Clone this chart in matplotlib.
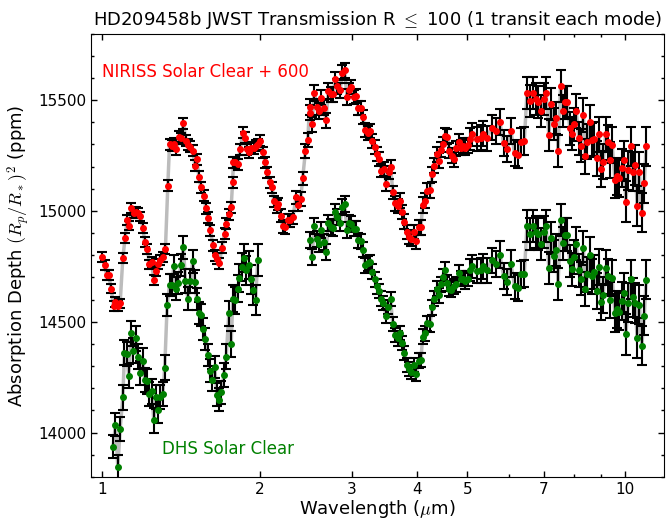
import matplotlib
matplotlib.use("Agg")
import matplotlib.pyplot as plt
from matplotlib.ticker import FixedLocator, FixedFormatter, NullFormatter, MultipleLocator

plt.rcParams["font.family"] = "DejaVu Sans"
plt.rcParams["mathtext.fontset"] = "cm"

# NIRISS (already shifted by +600 ppm, as plotted)
niriss_wl = [
    0.999, 1.009, 1.019, 1.028, 1.039, 1.050, 1.059, 1.070, 1.081, 1.094,
    1.105, 1.115, 1.126, 1.136, 1.148, 1.160, 1.170, 1.181, 1.195, 1.205,
    1.218, 1.230, 1.242, 1.254, 1.267, 1.280, 1.291, 1.305, 1.320,
    1.334, 1.344, 1.357, 1.370, 1.384, 1.400, 1.415, 1.429, 1.446, 1.461,
    1.474, 1.489, 1.503, 1.518, 1.529, 1.545, 1.563, 1.577, 1.596, 1.610,
    1.627, 1.644, 1.659, 1.675, 1.693, 1.713, 1.728, 1.746, 1.764, 1.775,
    1.782, 1.797, 1.816, 1.835, 1.856, 1.871, 1.889, 1.906, 1.926, 1.949,
    1.970, 1.984, 2.006, 2.029, 2.051, 2.070, 2.091, 2.113, 2.129, 2.155,
    2.171, 2.194, 2.215, 2.238, 2.264, 2.288, 2.315, 2.349, 2.372, 2.397,
    2.418,
    2.448, 2.473, 2.492, 2.500, 2.520, 2.547, 2.573, 2.596, 2.624, 2.652,
    2.680, 2.709, 2.734, 2.766, 2.792, 2.817, 2.851, 2.882, 2.908, 2.940,
    2.967, 2.994, 3.030, 3.057, 3.090, 3.123, 3.151, 3.185, 3.219, 3.248,
    3.286, 3.323, 3.352, 3.392, 3.422, 3.458, 3.495, 3.531, 3.562, 3.600,
    3.638, 3.676, 3.715, 3.749, 3.788, 3.823, 3.863, 3.905, 3.947, 3.982,
    4.031, 4.073, 4.105, 4.149, 4.193, 4.240, 4.284, 4.324, 4.364, 4.404,
    4.443, 4.483, 4.530, 4.579, 4.620, 4.669, 4.711, 4.761, 4.812, 4.856,
    4.906, 4.958, 5.003,
    5.056, 5.101, 5.210, 5.313, 5.354, 5.449, 5.563, 5.662, 5.769, 5.864,
    5.961, 6.057, 6.157, 6.248, 6.332, 6.427,
    6.502, 6.588, 6.676, 6.765, 6.837, 6.916, 7.008, 7.080, 7.160, 7.240,
    7.310, 7.400, 7.460, 7.540, 7.620, 7.690, 7.770, 7.850, 7.920, 8.010,
    8.080, 8.170, 8.240, 8.340, 8.410, 8.490, 8.580, 8.680, 8.750, 8.840,
    8.930, 9.020, 9.100, 9.200, 9.290, 9.390, 9.470, 9.580, 9.670, 9.750,
    9.870, 9.960, 10.06, 10.16, 10.27, 10.37, 10.48, 10.57, 10.68, 10.79,
    10.91, 11.00,
]
niriss_depth = [
    14792, 14755, 14710, 14710, 14650, 14570, 14590, 14570, 14583, 14789,
    14879, 14960, 14934, 15014, 14990, 14994, 14990, 14975, 14924, 14860,
    14830, 14759, 14770, 14690, 14729, 14762, 14780, 14792, 14830,
    15114, 15301, 15294, 15304, 15279, 15334, 15328, 15396, 15316, 15298,
    15289, 15271, 15204, 15234, 15154, 15106, 15069, 15012, 14969, 14912,
    14845, 14800, 14785, 14765, 14834, 14897, 14942, 14985, 15016, 15129,
    15219, 15219, 15211, 15279, 15353, 15331, 15279, 15264, 15286, 15283,
    15294, 15301, 15316, 15264, 15219, 15174, 15129, 15106, 15043, 15020,
    15032, 14979, 14930, 14927, 14957, 14957, 14972, 15061, 15029, 15054,
    15147,
    15271, 15319, 15469, 15443, 15391, 15533, 15469, 15451, 15511, 15466,
    15409, 15541, 15526, 15526, 15593, 15563, 15544, 15623, 15634, 15514,
    15544, 15559, 15514, 15518, 15466, 15466, 15424, 15364, 15353, 15361,
    15316, 15289, 15256, 15234, 15181, 15189, 15122, 15174, 15199, 15084,
    15034, 15024, 15047, 14994, 14952, 14904, 14882, 14875, 14904, 14864,
    14927, 14927, 15027, 15047, 15092, 15094, 15166, 15204, 15256, 15226,
    15277, 15301, 15339, 15334, 15271, 15249, 15234, 15283, 15313, 15286,
    15294, 15286, 15297,
    15324, 15346, 15324, 15331, 15349, 15328, 15376, 15361, 15401, 15306,
    15279, 15361, 15261, 15252, 15313, 15316,
    15533, 15496, 15533, 15503, 15493, 15451, 15506, 15530, 15343, 15481,
    15394, 15421, 15271, 15563, 15451, 15491, 15491, 15373, 15349, 15391,
    15451, 15328, 15294, 15433, 15246, 15313, 15401, 15321, 15324, 15237,
    15346, 15189, 15222, 15346, 15309, 15231, 15298, 15141, 15156, 15147,
    15194, 15231, 15042, 15184, 15291, 15177, 15209, 15024, 15177, 14991,
    15126, 15291,
]
niriss_err = [
    22, 22, 22, 22, 22, 22, 22, 22, 22, 22,
    22, 22, 22, 22, 22, 22, 22, 22, 22, 22,
    22, 22, 22, 22, 22, 22, 22, 22, 22,
    25, 25, 25, 25, 25, 25, 25, 25, 25, 25,
    25, 25, 25, 25, 25, 25, 25, 25, 25, 25,
    25, 25, 25, 25, 25, 25, 25, 25, 25, 25,
    25, 25, 25, 25, 25, 25, 25, 25, 25, 25,
    25, 25, 25, 25, 25, 25, 25, 25, 25, 28,
    28, 28, 30, 30, 30, 30, 30, 30, 30, 30,
    30,
    32, 32, 34, 34, 34, 36, 34, 34, 34, 34,
    34, 34, 34, 34, 34, 34, 34, 34, 34, 34,
    32, 32, 32, 32, 32, 32, 32, 32, 32, 32,
    32, 32, 32, 32, 30, 30, 30, 30, 30, 30,
    32, 32, 32, 32, 32, 32, 32, 32, 32, 34,
    34, 34, 34, 34, 34, 34, 34, 34, 34, 34,
    34, 34, 34, 34, 34, 34, 34, 34, 34, 34,
    34, 34, 34,
    50, 52, 54, 56, 56, 56, 58, 58, 60, 60,
    60, 60, 60, 60, 62, 62,
    72, 72, 72, 72, 72, 72, 72, 72, 72, 72,
    72, 72, 72, 72, 74, 74, 74, 74, 74, 75,
    75, 75, 75, 76, 78, 78, 78, 78, 78, 80,
    80, 80, 80, 80, 80, 82, 82, 84, 84, 84,
    86, 86, 92, 88, 88, 88, 90, 90, 88, 88,
    88, 88,
]

# DHS (no offset); gap between ~2.0 and ~2.45 um
dhs_wl = [
    1.048, 1.059, 1.070, 1.081, 1.094, 1.102, 1.112, 1.123, 1.135, 1.146,
    1.157, 1.169, 1.181, 1.195, 1.205, 1.218, 1.230, 1.242, 1.254, 1.267,
    1.280, 1.291, 1.305, 1.316, 1.330, 1.344, 1.357, 1.370, 1.384, 1.396,
    1.413, 1.429, 1.442, 1.457, 1.474, 1.489, 1.503, 1.516, 1.534, 1.545,
    1.561, 1.575, 1.591, 1.608, 1.623, 1.641, 1.656, 1.671, 1.690, 1.708,
    1.726, 1.746, 1.764, 1.777, 1.798, 1.816, 1.830, 1.849, 1.865, 1.885,
    1.905, 1.927, 1.946, 1.964, 1.984,
    2.500, 2.520, 2.547, 2.573, 2.596, 2.624, 2.652, 2.680, 2.709, 2.734,
    2.766, 2.792, 2.817, 2.851, 2.882, 2.908, 2.940, 2.967, 2.994, 3.030,
    3.057, 3.090, 3.123, 3.151, 3.185, 3.219, 3.248, 3.286, 3.323, 3.352,
    3.387, 3.418, 3.453, 3.495, 3.527, 3.562, 3.600, 3.638, 3.676, 3.715,
    3.749, 3.788, 3.828, 3.863, 3.905, 3.947, 3.988, 4.031, 4.073, 4.105,
    4.149, 4.193, 4.240, 4.284, 4.324, 4.364, 4.404, 4.443, 4.483, 4.530,
    4.572, 4.620, 4.661, 4.711, 4.761, 4.812, 4.856, 4.906, 4.958, 5.003,
    5.056, 5.101, 5.210, 5.313,
    5.354, 5.449, 5.563, 5.662, 5.769, 5.864, 5.961, 6.057, 6.157, 6.248,
    6.332, 6.427, 6.502, 6.588, 6.676, 6.765, 6.837, 6.916, 7.008, 7.080,
    7.160, 7.240, 7.310, 7.400, 7.460, 7.540, 7.620, 7.690, 7.770, 7.850,
    7.920, 8.010, 8.080, 8.170, 8.240, 8.340, 8.410, 8.490, 8.580, 8.680,
    8.750, 8.840, 8.930, 9.020, 9.100, 9.200, 9.290, 9.390, 9.470, 9.580,
    9.670, 9.750, 9.870, 9.960, 10.06, 10.16, 10.27, 10.37, 10.48, 10.57,
    10.68, 10.79, 10.91, 11.00,
]
dhs_depth = [
    13936, 14036, 13844, 14017, 14159, 14361, 14355, 14256, 14448, 14370,
    14425, 14343, 14268, 14325, 14238, 14231, 14175, 14186, 14055, 14160,
    14100, 14160, 14175, 14293, 14575, 14665, 14665, 14750, 14650, 14675,
    14758, 14837, 14684, 14605, 14684, 14773, 14680, 14602, 14538, 14530,
    14466, 14421, 14350, 14280, 14238, 14295, 14171, 14148, 14183, 14259,
    14343, 14538, 14400, 14605, 14597, 14650, 14698, 14747, 14789, 14732,
    14755, 14692, 14642, 14597, 14780,
    14870, 14792, 14934, 14875, 14852, 14912, 14862, 14814, 14945, 14927,
    14924, 14994, 14972, 14945, 15020, 15032, 14915, 14945, 14942, 14920,
    14920, 14867, 14864, 14825, 14755, 14765, 14768, 14725, 14692, 14660,
    14639, 14605, 14583, 14526, 14565, 14601, 14490, 14440, 14425, 14448,
    14406, 14358, 14305, 14286, 14275, 14305, 14265, 14325, 14328, 14433,
    14448, 14493, 14490, 14565, 14605, 14650, 14620, 14669, 14702, 14735,
    14675, 14650, 14645, 14660, 14669, 14720, 14695, 14695, 14684, 14695,
    14735, 14750, 14728, 14732,
    14750, 14732, 14777, 14762, 14803, 14707, 14680, 14762, 14662, 14653,
    14714, 14717, 14934, 14897, 14934, 14904, 14897, 14852, 14907, 14931,
    14743, 14879, 14795, 14822, 14672, 14961, 14855, 14893, 14893, 14774,
    14737, 14792, 14852, 14732, 14695, 14832, 14647, 14714, 14803, 14705,
    14725, 14638, 14747, 14590, 14620, 14744, 14705, 14597, 14698, 14540,
    14556, 14545, 14594, 14632, 14443, 14585, 14692, 14610, 14583, 14425,
    14578, 14392, 14527, 14690,
]
dhs_err = [
    52, 52, 55, 55, 56, 55, 55, 55, 55, 55,
    55, 55, 55, 55, 55, 55, 55, 55, 55, 55,
    55, 55, 55, 55, 50, 50, 50, 50, 50, 50,
    50, 52, 52, 52, 52, 52, 52, 50, 50, 50,
    50, 50, 50, 50, 50, 50, 52, 52, 52, 55,
    55, 58, 58, 60, 60, 60, 62, 62, 64, 64,
    64, 66, 66, 68, 72,
    36, 36, 36, 36, 36, 36, 36, 36, 36, 36,
    36, 36, 36, 36, 36, 36, 36, 36, 36, 34,
    34, 34, 34, 34, 34, 34, 34, 34, 34, 34,
    32, 32, 32, 32, 32, 32, 32, 32, 32, 32,
    32, 32, 32, 32, 32, 32, 32, 32, 32, 34,
    34, 34, 34, 34, 34, 34, 34, 34, 34, 34,
    34, 34, 34, 34, 34, 34, 34, 34, 34, 34,
    50, 52, 54, 56,
    56, 56, 58, 58, 60, 60, 60, 60, 60, 60,
    62, 62, 72, 72, 72, 72, 72, 72, 72, 72,
    72, 72, 72, 72, 72, 72, 74, 74, 74, 74,
    74, 75, 75, 75, 75, 76, 78, 78, 78, 78,
    78, 80, 80, 80, 80, 80, 80, 82, 82, 84,
    84, 84, 86, 86, 92, 88, 88, 88, 90, 90,
    88, 88, 88, 88,
]

red = "#ff0000"
green = "#008000"
model_grey = "#bcbcbc"

fig = plt.figure(figsize=(6.68, 5.21), dpi=100)
ax = fig.add_axes([0.136, 0.0845, 0.858, 0.851])

# grey line joining the points (DHS drawn in two pieces across its gap)
gap = next(i for i, w in enumerate(dhs_wl) if w > 2.2)
ax.plot(niriss_wl, niriss_depth, color=model_grey, lw=2.5, zorder=1)
ax.plot(dhs_wl[:gap], dhs_depth[:gap], color=model_grey, lw=2.5, zorder=1)
ax.plot(dhs_wl[gap:], dhs_depth[gap:], color=model_grey, lw=2.5, zorder=1)

ax.errorbar(niriss_wl, niriss_depth, yerr=niriss_err, fmt="o", ms=4,
            color=red, mec=red, ecolor="k", elinewidth=1.5,
            capsize=3.5, capthick=1.5, zorder=3)
ax.errorbar(dhs_wl, dhs_depth, yerr=dhs_err, fmt="o", ms=4,
            color=green, mec=green, ecolor="k", elinewidth=1.5,
            capsize=3.5, capthick=1.5, zorder=3)

ax.text(1.0, 15625, "NIRISS Solar Clear + 600", color=red, fontsize=12,
        va="center", ha="left")
ax.text(1.30, 13925, "DHS Solar Clear", color=green, fontsize=12,
        va="center", ha="left")

ax.set_xscale("log")
ax.set_xlim(0.95, 11.9)
ax.set_ylim(13800, 15800)
ax.xaxis.set_major_locator(FixedLocator([1, 2, 3, 4, 5, 7, 10]))
ax.xaxis.set_major_formatter(FixedFormatter(["1", "2", "3", "4", "5", "7", "10"]))
ax.xaxis.set_minor_locator(FixedLocator([6, 8, 9]))
ax.xaxis.set_minor_formatter(NullFormatter())
ax.yaxis.set_major_locator(MultipleLocator(500))
ax.yaxis.set_minor_locator(MultipleLocator(100))
ax.tick_params(which="both", direction="in", top=True, right=True, labelsize=11)
ax.tick_params(which="major", length=4.5, width=1)
ax.tick_params(which="minor", length=2.5, width=1)

ax.set_title(r"HD209458b JWST Transmission R $\leq$ 100 (1 transit each mode)",
             fontsize=13)
ax.set_xlabel(r"Wavelength ($\mu$m)", fontsize=13, labelpad=1)
ax.set_ylabel(r"Absorption Depth $(R_p/R_*)^2$ (ppm)", fontsize=13)

fig.savefig("out.png", dpi=100)
